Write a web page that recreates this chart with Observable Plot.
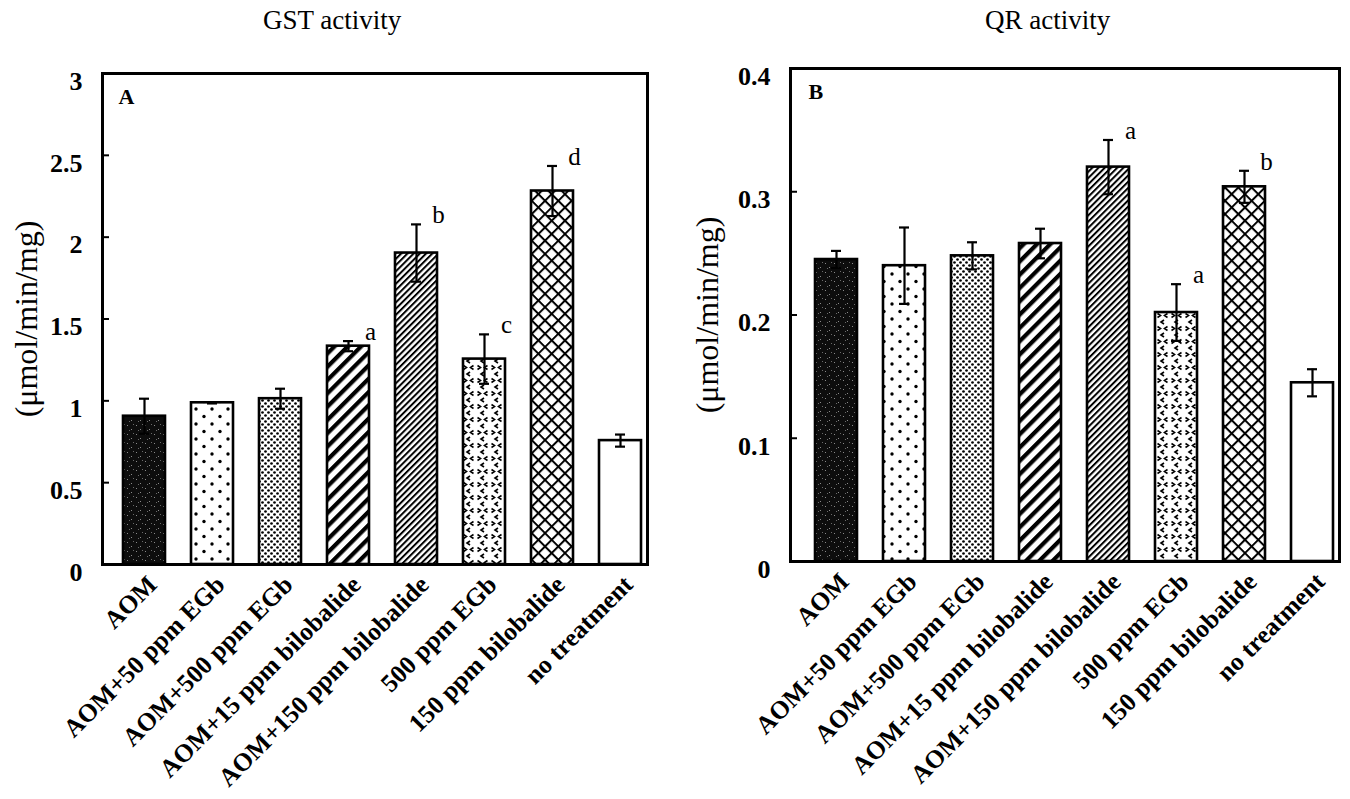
<!DOCTYPE html>
<html><head><meta charset="utf-8">
<script src="https://cdn.jsdelivr.net/npm/d3@7"></script>
<script src="https://cdn.jsdelivr.net/npm/@observablehq/plot@0.6"></script>
<style>
body{margin:0;background:#fff;width:1350px;height:799px;overflow:hidden;position:relative;font-family:"Liberation Serif","Times New Roman",serif;}
.panel{position:absolute;top:0;}
.title{position:absolute;top:4px;font-size:27px;line-height:32px;color:#000;white-space:nowrap;}
</style></head><body>
<svg width="0" height="0" style="position:absolute;left:0;top:0">
<defs>
  <pattern id="pAOM" patternUnits="userSpaceOnUse" width="9" height="9">
    <rect width="9" height="9" fill="#0d0d0d"/>
    <rect x="1" y="2" width="1" height="1" fill="#8a8a8a"/>
    <rect x="5" y="6" width="1" height="1" fill="#8a8a8a"/>
    <rect x="7" y="1" width="1" height="1" fill="#6a6a6a"/>
    <rect x="3" y="7" width="1" height="1" fill="#6a6a6a"/>
  </pattern>
  <pattern id="pDots" patternUnits="userSpaceOnUse" width="16" height="15">
    <rect width="16" height="15" fill="#fff"/>
    <circle cx="4" cy="4" r="1.7" fill="#000"/>
    <circle cx="12" cy="11.5" r="1.7" fill="#000"/>
  </pattern>
  <pattern id="pDense" patternUnits="userSpaceOnUse" width="6" height="6">
    <rect width="6" height="6" fill="#fff"/>
    <circle cx="1.5" cy="1.5" r="1.35" fill="#000"/>
    <circle cx="4.5" cy="4.5" r="1.35" fill="#000"/>
  </pattern>
  <pattern id="pWide" patternUnits="userSpaceOnUse" width="9.4" height="10" patternTransform="rotate(45)">
    <rect width="9.4" height="10" fill="#fff"/>
    <rect width="4.2" height="10" fill="#000"/>
  </pattern>
  <pattern id="pNarrow" patternUnits="userSpaceOnUse" width="4.4" height="10" patternTransform="rotate(45)">
    <rect width="4.4" height="10" fill="#fff"/>
    <rect width="2" height="10" fill="#000"/>
  </pattern>
  <pattern id="pChev" patternUnits="userSpaceOnUse" width="14" height="13">
    <rect width="14" height="13" fill="#fff"/>
    <path d="M1.5,1.5 L4.5,3.5 L1.5,5.5 M11.5,1.5 L8.5,3.5 L11.5,5.5 M8,8 L5,10 L8,12" fill="none" stroke="#000" stroke-width="1.6"/>
  </pattern>
  <pattern id="pCross" patternUnits="userSpaceOnUse" width="9.4" height="9.4" patternTransform="rotate(45)">
    <rect width="9.4" height="9.4" fill="#fff"/>
    <rect width="2" height="9.4" fill="#000"/>
    <rect width="9.4" height="2" fill="#000"/>
  </pattern>
</defs></svg>
<div class="title" style="left:263px">GST activity</div>
<div class="title" style="left:985px">QR activity</div>
<div id="A" class="panel" style="left:0px"></div>
<div id="B" class="panel" style="left:680px"></div>
<script>
const treatments = ["AOM", "AOM+50 ppm EGb", "AOM+500 ppm EGb", "AOM+15 ppm bilobalide", "AOM+150 ppm bilobalide", "500 ppm EGb", "150 ppm bilobalide", "no treatment"];
const gstMean = [0.906, 0.988, 1.013, 1.334, 1.903, 1.255, 2.282, 0.757];
const gstErr = [0.107, 0.004, 0.061, 0.031, 0.175, 0.151, 0.153, 0.037];
const gstLetters = ["", "", "", "a", "b", "c", "d", ""];
const qrMean = [0.245, 0.240, 0.248, 0.258, 0.320, 0.202, 0.304, 0.145];
const qrErr = [0.007, 0.031, 0.011, 0.012, 0.022, 0.023, 0.013, 0.011];
const qrLetters = ["", "", "", "", "a", "a", "b", ""];
const gstTicks = [0, 0.5, 1, 1.5, 2, 2.5, 3];
const qrTicks = [0, 0.1, 0.2, 0.3, 0.4];
const yLabel = "(μmol/min/mg)";

const fills = ["url(#pAOM)", "url(#pDots)", "url(#pDense)", "url(#pWide)", "url(#pNarrow)", "url(#pChev)", "url(#pCross)", "#ffffff"];

function panel({mean, err, letters, ticks, yMax, tag, width, margins, paddingOuter, align, labelDx, tagDx}) {
  const rows = treatments.map((t, i) => ({t, v: mean[i], e: err[i], s: letters[i], f: fills[i]}));
  const capInset = 16;
  const frameW = width - margins.marginLeft - margins.marginRight;
  return Plot.plot({
    width, height: 799, ...margins,
    style: {fontFamily: "'Liberation Serif', 'Times New Roman', serif", background: "transparent", color: "#000", overflow: "visible"},
    x: {domain: treatments, paddingInner: 0.38, paddingOuter, align, axis: null},
    y: {domain: [0, yMax], axis: null},
    color: {type: "identity"},
    marks: [
      Plot.barY(rows, {x: "t", y: "v", fill: "f", stroke: "#000", strokeWidth: 2.6}),
      Plot.ruleX(rows, {x: "t", y1: d => d.v - d.e, y2: d => d.v + d.e, stroke: "#000", strokeWidth: 2.2}),
      Plot.tickY(rows, {x: "t", y: d => d.v + d.e, insetLeft: capInset, insetRight: capInset, stroke: "#000", strokeWidth: 2.2}),
      Plot.tickY(rows, {x: "t", y: d => d.v - d.e, insetLeft: capInset, insetRight: capInset, stroke: "#000", strokeWidth: 2.2}),
      Plot.text(rows.filter(d => d.s), {x: "t", y: d => d.v + d.e, text: "s", dx: 22, dy: -9, fontSize: 25, fill: "#000"}),
      Plot.tickY(ticks, {y: d => d, insetRight: frameW - 7, stroke: "#000", strokeWidth: 2}),
      Plot.frame({stroke: "#000", strokeWidth: 3}),
      Plot.axisY({ticks, tickSize: 0, tickPadding: 20, tickFormat: d3.format("~g"), fontSize: 26, fontWeight: "bold", label: null, dy: 8}),
      Plot.text(rows, {x: "t", frameAnchor: "bottom", text: "t", rotate: -45, textAnchor: "end", lineAnchor: "middle", dx: 8, dy: 16, fontSize: 25.5, fontWeight: "bold", fill: "#000"}),
      Plot.text([tag], {frameAnchor: "top-left", text: d => d, dx: tagDx, dy: 15, textAnchor: "start", lineAnchor: "top", fontSize: 22, fontWeight: "bold", fill: "#000"}),
      Plot.text([yLabel], {frameAnchor: "left", text: d => d, dx: labelDx, rotate: -90, textAnchor: "middle", lineAnchor: "middle", fontSize: 32, fill: "#000"})
    ]
  });
}

document.getElementById("A").append(panel({
  mean: gstMean, err: gstErr, letters: gstLetters, ticks: gstTicks, yMax: 3, tag: "A",
  width: 680, margins: {marginLeft: 102, marginRight: 33, marginTop: 73, marginBottom: 235},
  paddingOuter: 0.173, align: 0.77, labelDx: -76, tagDx: 16
}));
document.getElementById("B").append(panel({
  mean: qrMean, err: qrErr, letters: qrLetters, ticks: qrTicks, yMax: 0.4, tag: "B",
  width: 670, margins: {marginLeft: 110, marginRight: 11, marginTop: 68, marginBottom: 238},
  paddingOuter: 0.205, align: 0.82, labelDx: -83, tagDx: 18
}));
</script>
</body></html>
